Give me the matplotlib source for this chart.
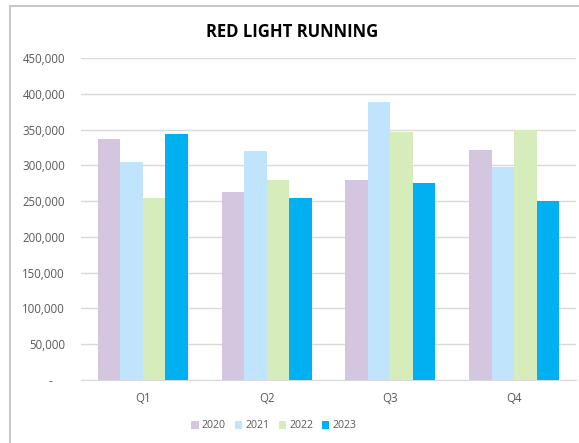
import numpy as np
import matplotlib
matplotlib.use("Agg")
import matplotlib.pyplot as plt
from matplotlib.lines import Line2D

quarters = ["Q1", "Q2", "Q3", "Q4"]
years = ["2020", "2021", "2022", "2023"]
v2020 = [337000, 263000, 279000, 322000]
v2021 = [305000, 320000, 389000, 298000]
v2022 = [255000, 280000, 347000, 350000]
v2023 = [344000, 254000, 275000, 250000]
yticks = [0, 50000, 100000, 150000, 200000, 250000, 300000, 350000, 400000, 450000]

series = [v2020, v2021, v2022, v2023]
colors = ["#D4C6DF", "#C0E4FB", "#D6ECBA", "#00B0F0"]

plt.rcParams['font.family'] = ['Open Sans', 'DejaVu Sans']

W, H = 579, 443
fig = plt.figure(figsize=(W / 100, H / 100), dpi=100)

# chart area border: only the top and left edges fall inside the crop
fig.add_artist(Line2D([9.5 / W, 9.5 / W], [0, 1 - 5.5 / H], color="#C8C8C8", lw=1.5,
                      transform=fig.transFigure))
fig.add_artist(Line2D([9.5 / W, 1], [1 - 5.5 / H, 1 - 5.5 / H], color="#C8C8C8", lw=1.5,
                      transform=fig.transFigure))

ax = fig.add_axes([81 / W, 63 / H, 495 / W, 322 / H])
ax.set_facecolor("none")

x = np.arange(len(quarters))
bw = 1 / 5.5
for i, (vals, c, yr) in enumerate(zip(series, colors, years)):
    ax.bar(x + (i - 1.5) * bw, vals, width=bw, color=c, label=yr, zorder=3)

ax.set_xlim(-0.5, len(quarters) - 0.5)
ax.set_ylim(0, 450000)
ax.set_yticks(yticks)
ax.set_yticklabels(["-    "] + [f"{v:,}" for v in yticks[1:]])
ax.set_xticks(x)
ax.set_xticklabels(quarters)
ax.tick_params(axis="both", length=0, labelsize=8.3, colors="#595959")
ax.tick_params(axis="y", pad=11.5)
ax.tick_params(axis="x", pad=9)

ax.grid(axis="y", color="#D9D9D9", linewidth=1, zorder=0)
for s in ["top", "right", "left"]:
    ax.spines[s].set_visible(False)
ax.spines["bottom"].set_color("#D9D9D9")

fig.text(292 / W, 1 - 32 / H, "RED LIGHT RUNNING", ha="center", va="center",
         fontsize=12, fontweight="bold", color="black")

fig.legend(loc="center", bbox_to_anchor=(274 / W, 1 - 426 / H), ncol=4, frameon=False,
           fontsize=7.6, handlelength=0.7, handleheight=0.7, handletextpad=0.3,
           columnspacing=0.85, labelcolor="#595959")

fig.savefig("out.png", dpi=100)
